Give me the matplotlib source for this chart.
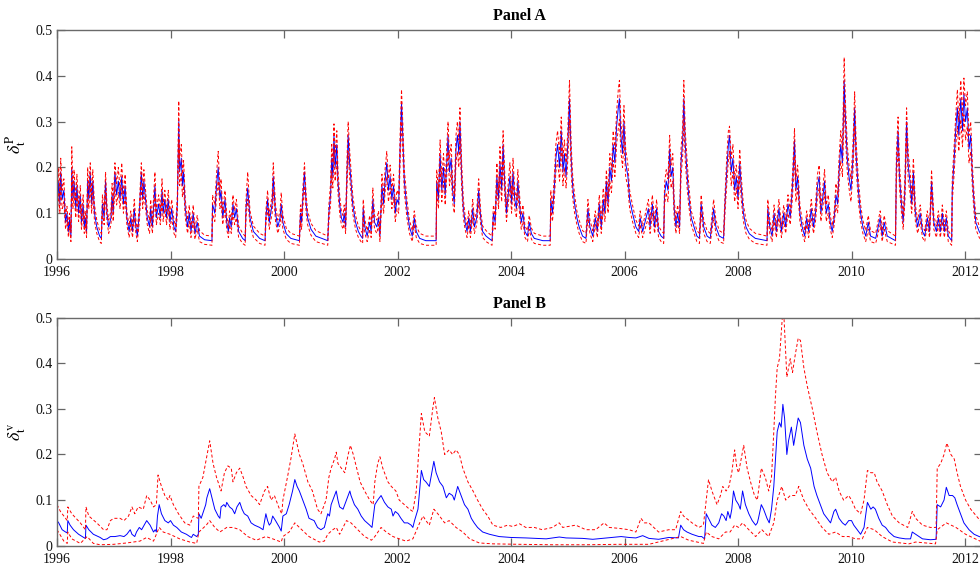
import matplotlib
matplotlib.use("Agg")
import matplotlib.pyplot as plt

plt.rcParams['font.family'] = ['Liberation Serif', 'DejaVu Serif']
plt.rcParams['mathtext.fontset'] = 'stix'
plt.rcParams['lines.scale_dashes'] = False

# ---- Panel A: delta^P (mid estimate, upper and lower band) ----
a_dates = [
    1996.00, 1996.03, 1996.05, 1996.065, 1996.09, 1996.12, 1996.15, 1996.175, 1996.20, 1996.22,
    1996.245, 1996.26, 1996.28, 1996.30, 1996.33, 1996.35, 1996.38, 1996.41, 1996.43, 1996.46,
    1996.48, 1996.50, 1996.52, 1996.54, 1996.56, 1996.585, 1996.61, 1996.63, 1996.66, 1996.70,
    1996.75, 1996.78, 1996.80, 1996.83, 1996.855, 1996.88, 1996.91, 1996.95, 1996.97, 1996.99,
    1997.02, 1997.05, 1997.08, 1997.11, 1997.14, 1997.17, 1997.20, 1997.23, 1997.27, 1997.30,
    1997.33, 1997.36, 1997.39, 1997.415, 1997.45, 1997.485, 1997.51, 1997.53, 1997.56, 1997.59,
    1997.63, 1997.65, 1997.68, 1997.725, 1997.75, 1997.79, 1997.82, 1997.85, 1997.87, 1997.90,
    1997.93, 1997.96, 1997.99, 1998.02, 1998.06, 1998.09, 1998.12, 1998.145, 1998.16, 1998.19,
    1998.21, 1998.23, 1998.26, 1998.30, 1998.33, 1998.36, 1998.40, 1998.43, 1998.47, 1998.51,
    1998.60, 1998.73, 1998.74, 1998.78, 1998.81, 1998.84, 1998.87, 1998.89, 1998.92, 1998.96,
    1998.99, 1999.02, 1999.04, 1999.07, 1999.10, 1999.13, 1999.16, 1999.20, 1999.27, 1999.315,
    1999.33, 1999.36, 1999.40, 1999.46, 1999.57, 1999.665, 1999.68, 1999.71, 1999.74, 1999.79,
    1999.81, 1999.85, 1999.89, 1999.93, 1999.95, 1999.98, 2000.04, 2000.12, 2000.27, 2000.29,
    2000.31, 2000.33, 2000.36, 2000.39, 2000.415, 2000.475, 2000.56, 2000.77, 2000.79, 2000.82,
    2000.84, 2000.86, 2000.88, 2000.90, 2000.93, 2000.95, 2000.98, 2001.01, 2001.04, 2001.06,
    2001.085, 2001.11, 2001.13, 2001.155, 2001.18, 2001.21, 2001.26, 2001.31, 2001.355, 2001.385,
    2001.395, 2001.425, 2001.465, 2001.51, 2001.535, 2001.565, 2001.595, 2001.635, 2001.665, 2001.69,
    2001.725, 2001.755, 2001.78, 2001.81, 2001.84, 2001.87, 2001.90, 2001.93, 2001.96, 2001.99,
    2002.02, 2002.045, 2002.07, 2002.095, 2002.12, 2002.165, 2002.21, 2002.26, 2002.295, 2002.33,
    2002.39, 2002.50, 2002.68, 2002.69, 2002.72, 2002.75, 2002.78, 2002.81, 2002.84, 2002.87,
    2002.89, 2002.915, 2002.945, 2002.97, 2003.00, 2003.03, 2003.055, 2003.08, 2003.10, 2003.13,
    2003.16, 2003.19, 2003.225, 2003.255, 2003.285, 2003.325, 2003.355, 2003.395, 2003.43, 2003.465,
    2003.50, 2003.56, 2003.61, 2003.665, 2003.69, 2003.72, 2003.75, 2003.78, 2003.805, 2003.835,
    2003.86, 2003.89, 2003.92, 2003.95, 2003.98, 2004.01, 2004.035, 2004.065, 2004.095, 2004.12,
    2004.15, 2004.18, 2004.21, 2004.245, 2004.29, 2004.32, 2004.36, 2004.41, 2004.56, 2004.69,
    2004.70, 2004.73, 2004.765, 2004.79, 2004.82, 2004.855, 2004.885, 2004.915, 2004.94, 2004.97,
    2005.00, 2005.03, 2005.06, 2005.085, 2005.12, 2005.16, 2005.20, 2005.26, 2005.32, 2005.355,
    2005.39, 2005.44, 2005.485, 2005.52, 2005.555, 2005.59, 2005.625, 2005.655, 2005.68, 2005.71,
    2005.74, 2005.77, 2005.80, 2005.83, 2005.86, 2005.89, 2005.91, 2005.935, 2005.965, 2005.99,
    2006.02, 2006.06, 2006.09, 2006.14, 2006.20, 2006.25, 2006.275, 2006.32, 2006.36, 2006.42,
    2006.45, 2006.49, 2006.53, 2006.565, 2006.60, 2006.645, 2006.69, 2006.705, 2006.735, 2006.765,
    2006.795, 2006.82, 2006.85, 2006.875, 2006.905, 2006.935, 2006.97, 2006.995, 2007.025, 2007.045,
    2007.07, 2007.10, 2007.13, 2007.175, 2007.225, 2007.275, 2007.32, 2007.35, 2007.395, 2007.455,
    2007.51, 2007.57, 2007.61, 2007.67, 2007.745, 2007.77, 2007.80, 2007.83, 2007.85, 2007.88,
    2007.91, 2007.94, 2007.97, 2008.00, 2008.03, 2008.06, 2008.095, 2008.14, 2008.20, 2008.305,
    2008.51, 2008.525, 2008.56, 2008.60, 2008.635, 2008.675, 2008.72, 2008.765, 2008.805, 2008.84,
    2008.88, 2008.92, 2008.96, 2008.995, 2009.02, 2009.05, 2009.09, 2009.13, 2009.175, 2009.21,
    2009.245, 2009.29, 2009.33, 2009.365, 2009.40, 2009.43, 2009.46, 2009.49, 2009.525, 2009.555,
    2009.59, 2009.625, 2009.66, 2009.695, 2009.725, 2009.755, 2009.78, 2009.81, 2009.84, 2009.87,
    2009.895, 2009.925, 2009.955, 2009.99, 2010.025, 2010.055, 2010.08, 2010.12, 2010.16, 2010.20,
    2010.25, 2010.295, 2010.335, 2010.425, 2010.505, 2010.54, 2010.575, 2010.63, 2010.775, 2010.79,
    2010.82, 2010.845, 2010.88, 2010.91, 2010.94, 2010.97, 2011.00, 2011.03, 2011.06, 2011.09,
    2011.125, 2011.165, 2011.21, 2011.25, 2011.29, 2011.335, 2011.375, 2011.41, 2011.45, 2011.495,
    2011.53, 2011.565, 2011.60, 2011.635, 2011.67, 2011.705, 2011.765, 2011.775, 2011.805, 2011.835,
    2011.865, 2011.89, 2011.925, 2011.955, 2011.98, 2012.01, 2012.04, 2012.07, 2012.10, 2012.13,
    2012.16, 2012.19, 2012.25, 2012.30,
]
a_mid = [
    0.10, 0.17, 0.12, 0.19, 0.13, 0.15, 0.08, 0.10, 0.06, 0.085,
    0.05, 0.20, 0.13, 0.17, 0.11, 0.16, 0.10, 0.14, 0.08, 0.12,
    0.07, 0.09, 0.06, 0.17, 0.13, 0.19, 0.12, 0.17, 0.10, 0.07,
    0.05, 0.045, 0.12, 0.09, 0.17, 0.10, 0.07, 0.09, 0.14, 0.10,
    0.19, 0.14, 0.17, 0.13, 0.18, 0.12, 0.16, 0.09, 0.06, 0.09,
    0.06, 0.11, 0.07, 0.05, 0.10, 0.19, 0.13, 0.17, 0.13, 0.09,
    0.07, 0.11, 0.07, 0.16, 0.09, 0.12, 0.09, 0.15, 0.10, 0.13,
    0.09, 0.13, 0.08, 0.11, 0.07, 0.06, 0.12, 0.30, 0.19, 0.22,
    0.16, 0.19, 0.11, 0.07, 0.10, 0.06, 0.10, 0.055, 0.08, 0.05,
    0.042, 0.04, 0.12, 0.10, 0.16, 0.20, 0.13, 0.15, 0.09, 0.13,
    0.08, 0.06, 0.09, 0.07, 0.12, 0.09, 0.11, 0.06, 0.045, 0.04,
    0.11, 0.155, 0.09, 0.06, 0.045, 0.04, 0.09, 0.13, 0.08, 0.12,
    0.18, 0.10, 0.07, 0.09, 0.12, 0.08, 0.055, 0.045, 0.04, 0.10,
    0.08, 0.13, 0.19, 0.12, 0.09, 0.065, 0.05, 0.04, 0.10, 0.14,
    0.22, 0.18, 0.27, 0.20, 0.25, 0.17, 0.12, 0.09, 0.08, 0.10,
    0.07, 0.19, 0.27, 0.21, 0.17, 0.12, 0.08, 0.06, 0.05, 0.045,
    0.11, 0.07, 0.05, 0.08, 0.06, 0.13, 0.08, 0.07, 0.09, 0.05,
    0.16, 0.12, 0.17, 0.21, 0.15, 0.18, 0.13, 0.16, 0.10, 0.13,
    0.12, 0.24, 0.34, 0.26, 0.17, 0.11, 0.07, 0.05, 0.09, 0.06,
    0.045, 0.04, 0.04, 0.17, 0.13, 0.23, 0.15, 0.20, 0.14, 0.22,
    0.27, 0.19, 0.22, 0.15, 0.12, 0.24, 0.27, 0.23, 0.30, 0.18,
    0.11, 0.08, 0.06, 0.09, 0.06, 0.11, 0.07, 0.09, 0.15, 0.09,
    0.06, 0.05, 0.045, 0.04, 0.10, 0.08, 0.18, 0.13, 0.21, 0.15,
    0.25, 0.16, 0.10, 0.14, 0.18, 0.12, 0.19, 0.13, 0.11, 0.17,
    0.12, 0.08, 0.10, 0.06, 0.05, 0.08, 0.055, 0.045, 0.04, 0.04,
    0.13, 0.10, 0.16, 0.22, 0.25, 0.20, 0.28, 0.19, 0.23, 0.18,
    0.25, 0.35, 0.22, 0.16, 0.12, 0.09, 0.07, 0.05, 0.045, 0.11,
    0.07, 0.05, 0.09, 0.06, 0.12, 0.07, 0.13, 0.10, 0.17, 0.12,
    0.20, 0.17, 0.25, 0.21, 0.29, 0.33, 0.35, 0.27, 0.23, 0.30,
    0.21, 0.18, 0.13, 0.10, 0.07, 0.06, 0.09, 0.06, 0.08, 0.11,
    0.07, 0.12, 0.07, 0.11, 0.06, 0.05, 0.045, 0.14, 0.17, 0.15,
    0.24, 0.18, 0.20, 0.11, 0.07, 0.10, 0.07, 0.21, 0.26, 0.35,
    0.25, 0.19, 0.14, 0.09, 0.07, 0.05, 0.045, 0.12, 0.07, 0.05,
    0.045, 0.11, 0.07, 0.05, 0.045, 0.12, 0.19, 0.25, 0.27, 0.19,
    0.22, 0.15, 0.18, 0.13, 0.21, 0.15, 0.10, 0.07, 0.055, 0.045,
    0.04, 0.11, 0.07, 0.05, 0.10, 0.06, 0.11, 0.06, 0.10, 0.07,
    0.12, 0.09, 0.16, 0.26, 0.15, 0.18, 0.10, 0.07, 0.05, 0.09,
    0.06, 0.11, 0.07, 0.10, 0.16, 0.18, 0.10, 0.13, 0.17, 0.10,
    0.12, 0.08, 0.06, 0.09, 0.14, 0.12, 0.19, 0.25, 0.21, 0.39,
    0.30, 0.22, 0.18, 0.15, 0.22, 0.33, 0.23, 0.15, 0.10, 0.07,
    0.05, 0.08, 0.05, 0.045, 0.09, 0.05, 0.08, 0.05, 0.04, 0.20,
    0.28, 0.18, 0.12, 0.08, 0.15, 0.30, 0.20, 0.17, 0.12, 0.19,
    0.10, 0.07, 0.10, 0.06, 0.05, 0.09, 0.06, 0.17, 0.08, 0.06,
    0.09, 0.06, 0.10, 0.06, 0.09, 0.05, 0.04, 0.15, 0.21, 0.28,
    0.33, 0.27, 0.35, 0.28, 0.36, 0.30, 0.33, 0.24, 0.27, 0.18,
    0.12, 0.08, 0.06, 0.05,
]
a_upper = [
    0.12, 0.20, 0.14, 0.22, 0.15, 0.175, 0.095, 0.115, 0.072, 0.10,
    0.062, 0.245, 0.15, 0.195, 0.13, 0.185, 0.118, 0.16, 0.095, 0.14,
    0.085, 0.105, 0.072, 0.20, 0.15, 0.21, 0.14, 0.195, 0.118, 0.085,
    0.062, 0.056, 0.14, 0.105, 0.19, 0.118, 0.085, 0.105, 0.165, 0.118,
    0.21, 0.165, 0.20, 0.15, 0.21, 0.14, 0.185, 0.105, 0.072, 0.105,
    0.072, 0.13, 0.085, 0.062, 0.118, 0.21, 0.15, 0.195, 0.15, 0.105,
    0.085, 0.13, 0.085, 0.19, 0.105, 0.14, 0.105, 0.175, 0.118, 0.15,
    0.105, 0.15, 0.095, 0.13, 0.085, 0.072, 0.14, 0.345, 0.22, 0.25,
    0.185, 0.215, 0.13, 0.085, 0.118, 0.072, 0.118, 0.067, 0.095, 0.062,
    0.052, 0.05, 0.14, 0.118, 0.185, 0.235, 0.15, 0.175, 0.105, 0.15,
    0.095, 0.072, 0.105, 0.085, 0.14, 0.105, 0.13, 0.072, 0.056, 0.05,
    0.13, 0.19, 0.105, 0.072, 0.056, 0.05, 0.105, 0.15, 0.095, 0.14,
    0.21, 0.118, 0.085, 0.105, 0.145, 0.095, 0.067, 0.056, 0.05, 0.118,
    0.095, 0.15, 0.21, 0.14, 0.105, 0.078, 0.062, 0.05, 0.118, 0.165,
    0.25, 0.21, 0.295, 0.23, 0.28, 0.195, 0.14, 0.105, 0.095, 0.118,
    0.085, 0.22, 0.30, 0.24, 0.195, 0.14, 0.095, 0.072, 0.062, 0.056,
    0.13, 0.085, 0.062, 0.095, 0.072, 0.155, 0.095, 0.085, 0.105, 0.062,
    0.185, 0.14, 0.195, 0.235, 0.175, 0.205, 0.15, 0.185, 0.118, 0.15,
    0.14, 0.27, 0.37, 0.29, 0.195, 0.13, 0.085, 0.062, 0.105, 0.072,
    0.056, 0.05, 0.05, 0.195, 0.15, 0.26, 0.175, 0.23, 0.165, 0.25,
    0.30, 0.22, 0.25, 0.175, 0.14, 0.27, 0.30, 0.26, 0.33, 0.21,
    0.13, 0.095, 0.072, 0.105, 0.072, 0.13, 0.085, 0.105, 0.175, 0.105,
    0.072, 0.062, 0.056, 0.05, 0.118, 0.095, 0.21, 0.15, 0.245, 0.175,
    0.28, 0.185, 0.118, 0.165, 0.21, 0.14, 0.22, 0.15, 0.13, 0.195,
    0.14, 0.095, 0.118, 0.072, 0.062, 0.095, 0.067, 0.056, 0.05, 0.05,
    0.15, 0.118, 0.185, 0.25, 0.28, 0.23, 0.31, 0.22, 0.26, 0.21,
    0.28, 0.39, 0.25, 0.185, 0.14, 0.105, 0.085, 0.062, 0.056, 0.13,
    0.085, 0.062, 0.105, 0.072, 0.14, 0.085, 0.155, 0.118, 0.195, 0.14,
    0.23, 0.195, 0.28, 0.24, 0.32, 0.37, 0.39, 0.30, 0.26, 0.335,
    0.24, 0.205, 0.15, 0.118, 0.085, 0.072, 0.105, 0.072, 0.095, 0.13,
    0.085, 0.14, 0.085, 0.13, 0.072, 0.062, 0.056, 0.165, 0.195, 0.175,
    0.27, 0.205, 0.23, 0.13, 0.085, 0.118, 0.085, 0.24, 0.29, 0.39,
    0.28, 0.22, 0.165, 0.105, 0.085, 0.062, 0.056, 0.14, 0.085, 0.062,
    0.056, 0.13, 0.085, 0.062, 0.056, 0.14, 0.22, 0.28, 0.29, 0.22,
    0.25, 0.175, 0.205, 0.15, 0.24, 0.175, 0.118, 0.085, 0.067, 0.056,
    0.05, 0.13, 0.085, 0.062, 0.118, 0.072, 0.13, 0.072, 0.118, 0.085,
    0.14, 0.105, 0.185, 0.285, 0.175, 0.205, 0.118, 0.085, 0.062, 0.105,
    0.072, 0.13, 0.085, 0.118, 0.185, 0.205, 0.118, 0.15, 0.195, 0.118,
    0.14, 0.095, 0.072, 0.105, 0.165, 0.14, 0.22, 0.28, 0.24, 0.44,
    0.335, 0.25, 0.205, 0.175, 0.25, 0.365, 0.26, 0.175, 0.118, 0.085,
    0.062, 0.095, 0.062, 0.056, 0.105, 0.062, 0.095, 0.062, 0.05, 0.23,
    0.31, 0.205, 0.14, 0.095, 0.175, 0.33, 0.23, 0.195, 0.14, 0.22,
    0.118, 0.085, 0.118, 0.072, 0.062, 0.105, 0.072, 0.195, 0.095, 0.072,
    0.105, 0.072, 0.118, 0.072, 0.105, 0.062, 0.05, 0.175, 0.24, 0.31,
    0.37, 0.30, 0.39, 0.31, 0.395, 0.335, 0.365, 0.27, 0.30, 0.205,
    0.14, 0.095, 0.072, 0.062,
]
a_lower = [
    0.08, 0.145, 0.10, 0.16, 0.11, 0.125, 0.065, 0.085, 0.048, 0.07,
    0.038, 0.17, 0.11, 0.145, 0.09, 0.135, 0.082, 0.12, 0.065, 0.10,
    0.056, 0.075, 0.047, 0.145, 0.11, 0.16, 0.10, 0.145, 0.082, 0.056,
    0.038, 0.034, 0.10, 0.075, 0.145, 0.082, 0.056, 0.075, 0.118, 0.082,
    0.16, 0.118, 0.145, 0.11, 0.155, 0.10, 0.135, 0.075, 0.047, 0.075,
    0.047, 0.09, 0.056, 0.038, 0.082, 0.16, 0.11, 0.145, 0.11, 0.075,
    0.056, 0.09, 0.056, 0.135, 0.075, 0.10, 0.075, 0.125, 0.082, 0.11,
    0.075, 0.11, 0.065, 0.09, 0.056, 0.047, 0.10, 0.26, 0.16, 0.19,
    0.135, 0.16, 0.09, 0.056, 0.082, 0.047, 0.082, 0.043, 0.065, 0.038,
    0.032, 0.03, 0.10, 0.082, 0.135, 0.17, 0.11, 0.125, 0.075, 0.11,
    0.065, 0.047, 0.075, 0.056, 0.10, 0.075, 0.09, 0.047, 0.034, 0.03,
    0.09, 0.13, 0.075, 0.047, 0.034, 0.03, 0.075, 0.11, 0.065, 0.10,
    0.15, 0.082, 0.056, 0.075, 0.10, 0.065, 0.043, 0.034, 0.03, 0.082,
    0.065, 0.11, 0.16, 0.10, 0.075, 0.052, 0.038, 0.03, 0.082, 0.118,
    0.19, 0.155, 0.235, 0.17, 0.215, 0.145, 0.10, 0.075, 0.065, 0.082,
    0.056, 0.16, 0.235, 0.18, 0.145, 0.10, 0.065, 0.047, 0.038, 0.034,
    0.09, 0.056, 0.038, 0.065, 0.047, 0.11, 0.065, 0.056, 0.075, 0.038,
    0.135, 0.10, 0.145, 0.18, 0.125, 0.155, 0.11, 0.135, 0.082, 0.11,
    0.10, 0.21, 0.30, 0.225, 0.145, 0.09, 0.056, 0.038, 0.075, 0.047,
    0.034, 0.03, 0.03, 0.145, 0.11, 0.20, 0.125, 0.17, 0.118, 0.19,
    0.235, 0.16, 0.19, 0.125, 0.10, 0.21, 0.235, 0.20, 0.26, 0.155,
    0.09, 0.065, 0.047, 0.075, 0.047, 0.09, 0.056, 0.075, 0.125, 0.075,
    0.047, 0.038, 0.034, 0.03, 0.082, 0.065, 0.155, 0.11, 0.18, 0.125,
    0.215, 0.135, 0.082, 0.118, 0.155, 0.10, 0.16, 0.11, 0.09, 0.145,
    0.10, 0.065, 0.082, 0.047, 0.038, 0.065, 0.043, 0.034, 0.03, 0.03,
    0.11, 0.082, 0.135, 0.19, 0.215, 0.17, 0.245, 0.16, 0.20, 0.155,
    0.215, 0.305, 0.19, 0.135, 0.10, 0.075, 0.056, 0.038, 0.034, 0.09,
    0.056, 0.038, 0.075, 0.047, 0.10, 0.056, 0.11, 0.082, 0.145, 0.10,
    0.17, 0.145, 0.215, 0.18, 0.25, 0.285, 0.305, 0.235, 0.20, 0.26,
    0.18, 0.155, 0.11, 0.082, 0.056, 0.047, 0.075, 0.047, 0.065, 0.09,
    0.056, 0.10, 0.056, 0.09, 0.047, 0.038, 0.034, 0.118, 0.145, 0.125,
    0.21, 0.155, 0.17, 0.09, 0.056, 0.082, 0.056, 0.18, 0.225, 0.305,
    0.215, 0.16, 0.118, 0.075, 0.056, 0.038, 0.034, 0.10, 0.056, 0.038,
    0.034, 0.09, 0.056, 0.038, 0.034, 0.10, 0.16, 0.215, 0.235, 0.16,
    0.19, 0.125, 0.155, 0.11, 0.18, 0.125, 0.082, 0.056, 0.043, 0.034,
    0.03, 0.09, 0.056, 0.038, 0.082, 0.047, 0.09, 0.047, 0.082, 0.056,
    0.10, 0.075, 0.135, 0.225, 0.125, 0.155, 0.082, 0.056, 0.038, 0.075,
    0.047, 0.09, 0.056, 0.082, 0.135, 0.155, 0.082, 0.11, 0.145, 0.082,
    0.10, 0.065, 0.047, 0.075, 0.118, 0.10, 0.16, 0.215, 0.18, 0.34,
    0.26, 0.19, 0.155, 0.125, 0.19, 0.29, 0.20, 0.125, 0.082, 0.056,
    0.038, 0.065, 0.038, 0.034, 0.075, 0.038, 0.065, 0.038, 0.03, 0.17,
    0.245, 0.155, 0.10, 0.065, 0.125, 0.26, 0.17, 0.145, 0.10, 0.16,
    0.082, 0.056, 0.082, 0.047, 0.038, 0.075, 0.047, 0.145, 0.065, 0.047,
    0.075, 0.047, 0.082, 0.047, 0.075, 0.038, 0.03, 0.125, 0.18, 0.245,
    0.29, 0.235, 0.305, 0.245, 0.315, 0.26, 0.29, 0.21, 0.235, 0.155,
    0.10, 0.065, 0.047, 0.038,
]

# ---- Panel B: delta^v ----
b_mid_dates = [
    1996.00, 1996.03, 1996.09, 1996.15, 1996.18, 1996.19, 1996.23, 1996.29, 1996.38, 1996.47,
    1996.50, 1996.51, 1996.56, 1996.64, 1996.76, 1996.82, 1996.88, 1996.94, 1997.02, 1997.11,
    1997.18, 1997.23, 1997.29, 1997.32, 1997.37, 1997.40, 1997.45, 1997.49, 1997.58, 1997.64,
    1997.70, 1997.73, 1997.75, 1997.77, 1997.80, 1997.84, 1997.90, 1997.96, 1998.00, 1998.05,
    1998.11, 1998.19, 1998.28, 1998.34, 1998.37, 1998.40, 1998.46, 1998.49, 1998.50, 1998.54,
    1998.58, 1998.62, 1998.64, 1998.69, 1998.74, 1998.78, 1998.84, 1998.87, 1998.89, 1998.94,
    1998.97, 1998.99, 1999.04, 1999.09, 1999.13, 1999.17, 1999.22, 1999.26, 1999.30, 1999.36,
    1999.42, 1999.48, 1999.57, 1999.63, 1999.68, 1999.71, 1999.74, 1999.77, 1999.80, 1999.85,
    1999.92, 1999.95, 1999.98, 2000.04, 2000.09, 2000.15, 2000.19, 2000.23, 2000.27, 2000.33,
    2000.39, 2000.44, 2000.53, 2000.59, 2000.65, 2000.71, 2000.77, 2000.80, 2000.83, 2000.89,
    2000.92, 2000.95, 2000.98, 2001.04, 2001.10, 2001.16, 2001.18, 2001.24, 2001.30, 2001.36,
    2001.42, 2001.51, 2001.55, 2001.60, 2001.65, 2001.71, 2001.77, 2001.83, 2001.89, 2001.92,
    2001.96, 2002.01, 2002.06, 2002.12, 2002.18, 2002.24, 2002.27, 2002.30, 2002.36, 2002.42,
    2002.46, 2002.50, 2002.56, 2002.64, 2002.68, 2002.74, 2002.80, 2002.86, 2002.91, 2002.97,
    2003.00, 2003.06, 2003.12, 2003.18, 2003.24, 2003.30, 2003.35, 2003.41, 2003.50, 2003.62,
    2003.79, 2004.00, 2004.26, 2004.62, 2004.85, 2004.97, 2005.26, 2005.44, 2005.61, 2005.79,
    2005.94, 2006.08, 2006.20, 2006.32, 2006.43, 2006.60, 2006.78, 2006.95, 2006.99, 2007.04,
    2007.10, 2007.19, 2007.31, 2007.36, 2007.41, 2007.44, 2007.48, 2007.54, 2007.60, 2007.66,
    2007.71, 2007.75, 2007.79, 2007.82, 2007.86, 2007.89, 2007.92, 2007.96, 2008.01, 2008.04,
    2008.08, 2008.13, 2008.19, 2008.25, 2008.31, 2008.34, 2008.36, 2008.41, 2008.45, 2008.51,
    2008.55, 2008.59, 2008.63, 2008.66, 2008.69, 2008.73, 2008.76, 2008.79, 2008.82, 2008.86,
    2008.89, 2008.94, 2008.98, 2009.02, 2009.06, 2009.10, 2009.16, 2009.22, 2009.28, 2009.34,
    2009.39, 2009.45, 2009.51, 2009.57, 2009.63, 2009.69, 2009.72, 2009.78, 2009.84, 2009.89,
    2009.95, 2010.00, 2010.04, 2010.10, 2010.16, 2010.22, 2010.28, 2010.34, 2010.38, 2010.42,
    2010.48, 2010.54, 2010.60, 2010.66, 2010.75, 2010.84, 2010.95, 2011.04, 2011.07, 2011.13,
    2011.19, 2011.25, 2011.39, 2011.49, 2011.51, 2011.57, 2011.63, 2011.67, 2011.72, 2011.78,
    2011.82, 2011.86, 2011.92, 2011.98, 2012.07, 2012.16, 2012.25, 2012.30,
]
b_mid = [
    0.055, 0.05, 0.035, 0.03, 0.028, 0.055, 0.045, 0.035, 0.025, 0.018,
    0.016, 0.045, 0.035, 0.025, 0.018, 0.013, 0.015, 0.02, 0.02, 0.022,
    0.02, 0.025, 0.035, 0.025, 0.02, 0.03, 0.04, 0.035, 0.055, 0.045,
    0.03, 0.035, 0.03, 0.065, 0.09, 0.07, 0.055, 0.05, 0.055, 0.045,
    0.04, 0.03, 0.025, 0.02, 0.018, 0.025, 0.02, 0.025, 0.07, 0.06,
    0.075, 0.09, 0.105, 0.125, 0.10, 0.08, 0.065, 0.06, 0.085, 0.09,
    0.085, 0.095, 0.085, 0.08, 0.07, 0.085, 0.095, 0.08, 0.07, 0.065,
    0.05, 0.045, 0.04, 0.035, 0.07, 0.055, 0.045, 0.05, 0.065, 0.055,
    0.04, 0.032, 0.065, 0.07, 0.09, 0.12, 0.145, 0.13, 0.12, 0.10,
    0.08, 0.06, 0.055, 0.04, 0.035, 0.04, 0.07, 0.065, 0.09, 0.11,
    0.12, 0.10, 0.085, 0.08, 0.10, 0.12, 0.11, 0.09, 0.08, 0.065,
    0.055, 0.045, 0.04, 0.09, 0.10, 0.11, 0.095, 0.085, 0.08, 0.065,
    0.075, 0.07, 0.06, 0.05, 0.05, 0.045, 0.04, 0.055, 0.08, 0.165,
    0.145, 0.14, 0.13, 0.185, 0.16, 0.14, 0.13, 0.105, 0.115, 0.11,
    0.10, 0.13, 0.11, 0.09, 0.08, 0.06, 0.05, 0.04, 0.03, 0.025,
    0.02, 0.018, 0.017, 0.015, 0.019, 0.017, 0.016, 0.014, 0.016, 0.018,
    0.02, 0.018, 0.017, 0.022, 0.016, 0.014, 0.018, 0.017, 0.045, 0.035,
    0.03, 0.025, 0.02, 0.02, 0.015, 0.07, 0.06, 0.045, 0.04, 0.05,
    0.07, 0.065, 0.055, 0.075, 0.06, 0.08, 0.12, 0.10, 0.09, 0.08,
    0.12, 0.09, 0.07, 0.055, 0.045, 0.05, 0.06, 0.09, 0.08, 0.06,
    0.05, 0.08, 0.13, 0.19, 0.25, 0.27, 0.26, 0.31, 0.28, 0.20,
    0.23, 0.26, 0.22, 0.25, 0.28, 0.27, 0.22, 0.19, 0.17, 0.13,
    0.11, 0.09, 0.07, 0.06, 0.05, 0.075, 0.08, 0.06, 0.05, 0.045,
    0.055, 0.055, 0.045, 0.035, 0.025, 0.04, 0.095, 0.08, 0.085, 0.08,
    0.06, 0.045, 0.04, 0.03, 0.02, 0.017, 0.015, 0.015, 0.03, 0.025,
    0.02, 0.015, 0.013, 0.014, 0.09, 0.085, 0.10, 0.128, 0.11, 0.11,
    0.105, 0.09, 0.07, 0.05, 0.035, 0.025, 0.02, 0.018,
]

b_up_dates = [
    1996.00, 1996.06, 1996.15, 1996.18, 1996.19, 1996.26, 1996.41, 1996.50, 1996.51, 1996.56,
    1996.70, 1996.82, 1996.88, 1996.94, 1997.00, 1997.11, 1997.18, 1997.26, 1997.32, 1997.37,
    1997.43, 1997.52, 1997.58, 1997.64, 1997.70, 1997.75, 1997.78, 1997.84, 1997.90, 1997.96,
    1997.99, 1998.05, 1998.14, 1998.25, 1998.34, 1998.40, 1998.49, 1998.50, 1998.57, 1998.63,
    1998.69, 1998.75, 1998.81, 1998.89, 1998.95, 1999.01, 1999.07, 1999.10, 1999.16, 1999.22,
    1999.28, 1999.33, 1999.42, 1999.51, 1999.57, 1999.655, 1999.71, 1999.77, 1999.83, 1999.92,
    1999.96, 1999.98, 2000.06, 2000.12, 2000.19, 2000.27, 2000.33, 2000.42, 2000.50, 2000.59,
    2000.65, 2000.74, 2000.79, 2000.83, 2000.89, 2000.92, 2000.95, 2001.01, 2001.07, 2001.13,
    2001.17, 2001.22, 2001.28, 2001.34, 2001.42, 2001.51, 2001.57, 2001.60, 2001.65, 2001.69,
    2001.74, 2001.80, 2001.83, 2001.89, 2001.97, 2002.03, 2002.12, 2002.21, 2002.27, 2002.33,
    2002.37, 2002.42, 2002.48, 2002.56, 2002.62, 2002.65, 2002.71, 2002.77, 2002.83, 2002.91,
    2002.97, 2003.03, 2003.09, 2003.15, 2003.24, 2003.33, 2003.41, 2003.50, 2003.59, 2003.68,
    2003.82, 2003.94, 2004.03, 2004.15, 2004.26, 2004.41, 2004.55, 2004.73, 2004.85, 2004.91,
    2005.14, 2005.32, 2005.49, 2005.64, 2005.73, 2005.90, 2006.08, 2006.20, 2006.29, 2006.35,
    2006.43, 2006.60, 2006.78, 2006.90, 2006.99, 2007.04, 2007.19, 2007.31, 2007.39, 2007.44,
    2007.48, 2007.54, 2007.63, 2007.69, 2007.73, 2007.79, 2007.84, 2007.89, 2007.94, 2007.98,
    2008.01, 2008.07, 2008.10, 2008.16, 2008.22, 2008.29, 2008.34, 2008.36, 2008.41, 2008.48,
    2008.54, 2008.59, 2008.63, 2008.66, 2008.69, 2008.73, 2008.78, 2008.81, 2008.84, 2008.86,
    2008.92, 2008.96, 2009.01, 2009.06, 2009.10, 2009.16, 2009.22, 2009.31, 2009.39, 2009.48,
    2009.57, 2009.66, 2009.72, 2009.78, 2009.86, 2009.95, 2010.00, 2010.07, 2010.16, 2010.22,
    2010.28, 2010.34, 2010.40, 2010.45, 2010.54, 2010.63, 2010.72, 2010.84, 2010.99, 2011.07,
    2011.13, 2011.25, 2011.39, 2011.49, 2011.51, 2011.57, 2011.63, 2011.68, 2011.75, 2011.81,
    2011.86, 2011.92, 2012.01, 2012.10, 2012.30,
]
b_up = [
    0.09, 0.075, 0.06, 0.055, 0.085, 0.07, 0.05, 0.035, 0.085, 0.065,
    0.05, 0.035, 0.035, 0.055, 0.06, 0.06, 0.055, 0.065, 0.085, 0.07,
    0.085, 0.08, 0.11, 0.10, 0.085, 0.09, 0.155, 0.13, 0.11, 0.10,
    0.11, 0.09, 0.07, 0.05, 0.045, 0.065, 0.06, 0.13, 0.15, 0.19,
    0.23, 0.18, 0.15, 0.12, 0.16, 0.175, 0.17, 0.14, 0.16, 0.17,
    0.15, 0.13, 0.11, 0.10, 0.09, 0.12, 0.13, 0.10, 0.11, 0.08,
    0.07, 0.10, 0.15, 0.19, 0.245, 0.20, 0.18, 0.14, 0.12, 0.08,
    0.07, 0.10, 0.15, 0.17, 0.19, 0.205, 0.18, 0.17, 0.16, 0.20,
    0.22, 0.20, 0.17, 0.14, 0.12, 0.10, 0.09, 0.14, 0.18, 0.195,
    0.17, 0.15, 0.14, 0.13, 0.12, 0.10, 0.09, 0.08, 0.075, 0.12,
    0.20, 0.29, 0.25, 0.24, 0.30, 0.325, 0.28, 0.25, 0.20, 0.21,
    0.20, 0.21, 0.20, 0.17, 0.14, 0.12, 0.10, 0.08, 0.065, 0.045,
    0.04, 0.045, 0.042, 0.048, 0.04, 0.04, 0.035, 0.04, 0.05, 0.04,
    0.045, 0.035, 0.035, 0.05, 0.04, 0.038, 0.035, 0.03, 0.06, 0.05,
    0.05, 0.03, 0.035, 0.035, 0.075, 0.065, 0.05, 0.04, 0.045, 0.10,
    0.145, 0.12, 0.09, 0.11, 0.13, 0.12, 0.13, 0.16, 0.21, 0.17,
    0.16, 0.20, 0.22, 0.17, 0.14, 0.11, 0.10, 0.12, 0.17, 0.15,
    0.12, 0.15, 0.25, 0.33, 0.39, 0.41, 0.50, 0.50, 0.42, 0.37,
    0.41, 0.38, 0.42, 0.455, 0.45, 0.39, 0.35, 0.30, 0.25, 0.20,
    0.16, 0.14, 0.15, 0.12, 0.10, 0.11, 0.10, 0.08, 0.07, 0.10,
    0.165, 0.16, 0.16, 0.14, 0.12, 0.09, 0.065, 0.05, 0.04, 0.075,
    0.06, 0.045, 0.04, 0.04, 0.17, 0.18, 0.20, 0.225, 0.20, 0.19,
    0.16, 0.13, 0.10, 0.08, 0.05,
]

b_low_dates = [
    1996.00, 1996.12, 1996.18, 1996.19, 1996.26, 1996.41, 1996.53, 1996.64, 1996.76, 1997.00,
    1997.23, 1997.46, 1997.58, 1997.70, 1997.80, 1997.87, 1997.99, 1998.16, 1998.34, 1998.46,
    1998.50, 1998.63, 1998.69, 1998.78, 1998.87, 1998.99, 1999.10, 1999.22, 1999.36, 1999.51,
    1999.68, 1999.80, 1999.95, 1999.98, 2000.09, 2000.19, 2000.27, 2000.44, 2000.62, 2000.71,
    2000.77, 2000.86, 2000.92, 2000.98, 2001.10, 2001.18, 2001.30, 2001.42, 2001.54, 2001.60,
    2001.71, 2001.80, 2001.92, 2002.03, 2002.15, 2002.27, 2002.39, 2002.45, 2002.50, 2002.56,
    2002.64, 2002.71, 2002.83, 2002.91, 2003.03, 2003.15, 2003.27, 2003.44, 2003.68, 2004.15,
    2004.73, 2005.32, 2005.90, 2006.43, 2006.99, 2007.13, 2007.39, 2007.44, 2007.54, 2007.66,
    2007.78, 2007.86, 2007.94, 2008.01, 2008.08, 2008.19, 2008.31, 2008.42, 2008.54, 2008.63,
    2008.69, 2008.77, 2008.84, 2008.92, 2009.01, 2009.07, 2009.16, 2009.25, 2009.37, 2009.48,
    2009.60, 2009.72, 2009.84, 2009.95, 2010.07, 2010.19, 2010.28, 2010.40, 2010.54, 2010.72,
    2011.01, 2011.13, 2011.48, 2011.51, 2011.67, 2011.84, 2012.01, 2012.30,
]
b_low = [
    0.035, 0.01, 0.005, 0.03, 0.015, 0.005, 0.02, 0.005, 0.002, 0.003,
    0.006, 0.01, 0.018, 0.01, 0.04, 0.03, 0.025, 0.015, 0.008, 0.005,
    0.03, 0.045, 0.055, 0.04, 0.03, 0.04, 0.04, 0.035, 0.02, 0.012,
    0.02, 0.015, 0.008, 0.02, 0.03, 0.05, 0.04, 0.02, 0.008, 0.01,
    0.025, 0.035, 0.04, 0.025, 0.055, 0.05, 0.035, 0.02, 0.012, 0.02,
    0.04, 0.03, 0.02, 0.015, 0.01, 0.015, 0.05, 0.065, 0.055, 0.045,
    0.08, 0.07, 0.05, 0.055, 0.04, 0.03, 0.015, 0.006, 0.004, 0.003,
    0.002, 0.002, 0.003, 0.003, 0.02, 0.012, 0.005, 0.03, 0.02, 0.015,
    0.03, 0.03, 0.045, 0.04, 0.05, 0.035, 0.02, 0.035, 0.02, 0.05,
    0.10, 0.13, 0.10, 0.11, 0.11, 0.13, 0.10, 0.08, 0.06, 0.04,
    0.025, 0.03, 0.02, 0.02, 0.015, 0.015, 0.04, 0.035, 0.02, 0.008,
    0.004, 0.008, 0.004, 0.035, 0.05, 0.04, 0.025, 0.008,
]

years = [1996, 1998, 2000, 2002, 2004, 2006, 2008, 2010, 2012]
y_ticks = [0, 0.1, 0.2, 0.3, 0.4, 0.5]
y_labels = ['0', '0.1', '0.2', '0.3', '0.4', '0.5']

fig = plt.figure(figsize=(9.8, 5.65), dpi=100)
ax_a = fig.add_axes([0.0582, 0.5416, 0.9439, 0.4053])
ax_b = fig.add_axes([0.0582, 0.0342, 0.9439, 0.4035])

dash = (0, (2.2, 1.6))
for ax, title, ylab in [(ax_a, 'Panel A', r'$\delta_{\mathrm{t}}^{\mathrm{P}}$'),
                        (ax_b, 'Panel B', r'$\delta_{\mathrm{t}}^{\mathrm{v}}$')]:
    ax.set_xlim(1996, 2012.3)
    ax.set_ylim(0, 0.5)
    ax.set_xticks(years)
    ax.set_xticklabels([str(y) for y in years])
    ax.set_yticks(y_ticks)
    ax.set_yticklabels(y_labels)
    ax.tick_params(direction='in', top=True, right=True, length=6, width=0.9,
                   color='#666666', labelsize=10, pad=3, labelcolor='#111111')
    ax.tick_params(axis='x', pad=5)
    for s in ax.spines.values():
        s.set_color('#6a6a6a')
        s.set_linewidth(1.0)
    ax.set_title(title, fontsize=11.5, fontweight='bold', pad=7)
    ax.set_ylabel(ylab, fontsize=13)
    ax.yaxis.set_label_coords(-0.031, 0.5)

ax_a.plot(a_dates, a_mid, color='#0000ff', lw=0.7)
ax_a.plot(a_dates, a_upper, color='#ff0000', lw=0.7, linestyle=dash)
ax_a.plot(a_dates, a_lower, color='#ff0000', lw=0.7, linestyle=dash)

ax_b.plot(b_mid_dates, b_mid, color='#0000ff', lw=0.7)
ax_b.plot(b_up_dates, b_up, color='#ff0000', lw=0.7, linestyle=dash)
ax_b.plot(b_low_dates, b_low, color='#ff0000', lw=0.7, linestyle=dash)

fig.savefig('out.png', dpi=100)
